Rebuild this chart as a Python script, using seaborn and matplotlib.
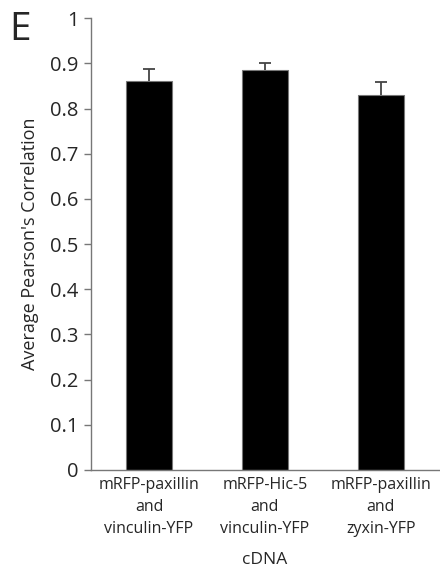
import matplotlib
matplotlib.use("Agg")
import matplotlib.pyplot as plt
import seaborn as sns
import pandas as pd

categories = ["mRFP-paxillin\nand\nvinculin-YFP",
              "mRFP-Hic-5\nand\nvinculin-YFP",
              "mRFP-paxillin\nand\nzyxin-YFP"]
means = [0.862, 0.885, 0.831]
errors = [0.025, 0.016, 0.027]
yticks = [0, 0.1, 0.2, 0.3, 0.4, 0.5, 0.6, 0.7, 0.8, 0.9, 1]
ytick_labels = ["0", "0.1", "0.2", "0.3", "0.4", "0.5", "0.6", "0.7", "0.8", "0.9", "1"]

sns.set_style("white")
plt.rcParams['font.family'] = ['Open Sans', 'DejaVu Sans']

df = pd.DataFrame({"cDNA": categories, "value": means})

fig = plt.figure(figsize=(4.4, 5.71), dpi=100)
ax = fig.add_axes([0.207, 0.177, 0.79, 0.791])

sns.barplot(data=df, x="cDNA", y="value", color="black", width=0.4,
            edgecolor="#777777", linewidth=0.8, errorbar=None, ax=ax,
            saturation=1)
eb = ax.errorbar(range(len(categories)), means, yerr=[[0]*3, errors], fmt="none",
                 ecolor="#444444", elinewidth=1.3, capsize=4, capthick=1.3)
# one-sided error bars: hide the lower caps
eb[1][0].set_visible(False)

ax.set_ylim(0, 1)
ax.set_xlim(-0.5, 2.5)
ax.set_yticks(yticks)
ax.set_yticklabels(ytick_labels, fontsize=14.5)
ax.set_xticks(range(len(categories)))
ax.set_xticklabels(categories, fontsize=11.5, linespacing=1.5)
ax.set_xticks([0.5, 1.5], minor=True)
ax.tick_params(axis="x", which="major", length=0, pad=5)
ax.tick_params(axis="x", which="minor", length=5, color="#777777", width=1, direction="out")
ax.tick_params(axis="y", length=5, color="#777777", width=1, direction="out", pad=4, left=True)

for s in ["top", "right"]:
    ax.spines[s].set_visible(False)
for s in ["left", "bottom"]:
    ax.spines[s].set_color("#777777")
    ax.spines[s].set_linewidth(1)

ax.set_xlabel("cDNA", fontsize=12.5, labelpad=11)
ax.set_ylabel("Average Pearson's Correlation", fontsize=13, labelpad=8)

fig.text(0.02, 0.98, "E", fontsize=28, va="top", ha="left")

fig.savefig("out.png", dpi=100)
